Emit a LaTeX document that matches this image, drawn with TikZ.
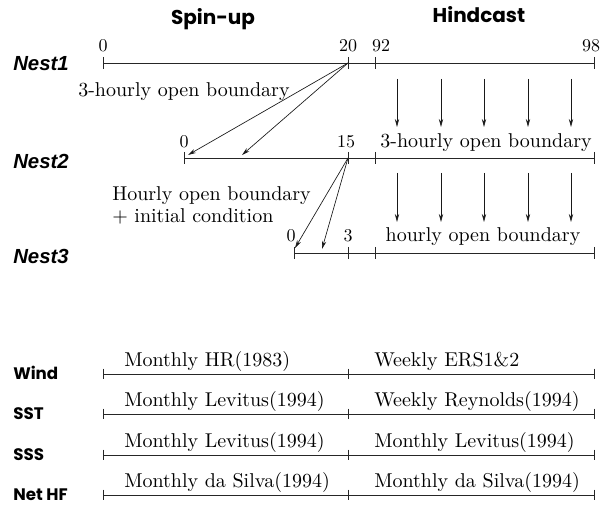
\documentclass[tikz,border=0pt]{standalone}
\usepackage{fontspec}
\usetikzlibrary{arrows.meta}
\newfontfamily\geo{Poppins}
\newfontfamily\nestfont{Liberation Sans}
\newfontfamily\ser{lmroman10-regular.otf}

\begin{document}
\begin{tikzpicture}[x=0.75pt,y=-0.75pt,
  tl/.style={line width=0.6pt, draw=black!85},
  ar/.style={-{Stealth[length=6pt,width=3.2pt]}, line width=0.5pt, draw=black!90},
  num/.style={font=\ser\fontsize{13.5}{16}\selectfont, inner sep=0pt, anchor=base},
  txt/.style={font=\ser\fontsize{15}{18}\selectfont, inner sep=0pt},
  head/.style={font=\geo\bfseries\fontsize{15}{18}\selectfont, inner sep=0pt, anchor=base},
  nest/.style={font=\nestfont\bfseries\itshape\fontsize{15.3}{17}\selectfont, inner sep=0pt, anchor=base west},
  var/.style={font=\geo\bfseries\fontsize{12.5}{15}\selectfont, inner sep=0pt, anchor=base west}
]
\useasboundingbox (0,0) rectangle (603,505);

% headings
\node[head] (spin) at (213,25) {Spin-up};
\node[head] (hind) at (479,23) {Hindcast};

% nest labels
\node[nest] (lab1) at (13,71) {Nest1};
\node[nest] (lab2) at (13,169) {Nest2};
\node[nest] (lab3) at (13,264) {Nest3};

% time-axis points
\coordinate (a0) at (103,63);  \coordinate (a20) at (348,63);
\coordinate (a92) at (375,63); \coordinate (a98) at (594,63);
\coordinate (b0) at (184,158); \coordinate (b15) at (348,158);
\coordinate (b92) at (375,158); \coordinate (b98) at (594,158);
\coordinate (c0) at (294,253); \coordinate (c3) at (348,253);
\coordinate (c92) at (375,253); \coordinate (c98) at (594,253);

% axes
\draw[tl] (a0) -- (a98);
\draw[tl] (b0) -- (b98);
\draw[tl] (c0) -- (c98);
\foreach \p in {a0,a20,a92,a98,b0,b15,b92,b98,c0,c3,c92,c98}
  \draw[tl] ([yshift=4.5pt]\p) -- ([yshift=-4.5pt]\p);

% axis numbers
\node[num] (n1a) at (103,52) {0};
\node[num] (n1b) at (348,52) {20};
\node[num] (n1c) at (381,52) {92};
\node[num] (n1d) at (591,52) {98};
\node[num] (n2a) at (184,148) {0};
\node[num] (n2b) at (346,148) {15};
\node[num] (n3a) at (291,242) {0};
\node[num] (n3b) at (348,242) {3};

% boundary labels
\node[txt, anchor=base west] (t1) at (78,97) {3-hourly open boundary};
\node[txt, anchor=base] (t2) at (486,148) {3-hourly open boundary};
\node[txt, anchor=base west] (t3) at (112,200.7) {Hourly open boundary};
\node[txt, anchor=base west] (t3b) at (112,222.7) {+ initial condition};
\node[txt, anchor=base] (t4) at (483,242) {hourly open boundary};

% spin-up transfers
\coordinate (e1) at (188,155); \coordinate (e2) at (242,155);
\coordinate (e3) at (295,248); \coordinate (e4) at (322,249);
\draw[ar] (a20) -- (e1);
\draw[ar] (a20) -- (e2);
\draw[ar] (b15) -- (e3);
\draw[ar] (b15) -- (e4);

% hindcast transfers
\foreach \x [count=\i] in {397,441,484,528,571} {
  \coordinate (u\i) at (\x,79);  \coordinate (v\i) at (\x,127);
  \coordinate (w\i) at (\x,173); \coordinate (z\i) at (\x,222);
  \draw[ar] (u\i) -- (v\i);
  \draw[ar] (w\i) -- (z\i);
}

% forcing rows
\foreach \y/\name/\lab/\lt/\rt in {
  374/wind/Wind/Monthly HR(1983)/Weekly ERS1\&2,
  414/sst/SST/Monthly Levitus(1994)/Weekly Reynolds(1994),
  455/sss/SSS/Monthly Levitus(1994)/Monthly Levitus(1994),
  495/hf/Net HF/Monthly da Silva(1994)/Monthly da Silva(1994)} {
  \node[var] (\name) at (13,\y+5.5) {\lab};
  \coordinate (\name L) at (103,\y);
  \coordinate (\name M) at (348,\y);
  \coordinate (\name R) at (594,\y);
  \draw[tl] (\name L) -- (\name R);
  \foreach \p in {\name L,\name M,\name R}
    \draw[tl] ([yshift=4pt]\p) -- ([yshift=-4pt]\p);
  \node[txt, anchor=base west] (\name a) at (124,\y-7) {\lt};
  \node[txt, anchor=base west] (\name b) at (374,\y-7) {\rt};
}
\end{tikzpicture}
\end{document}
